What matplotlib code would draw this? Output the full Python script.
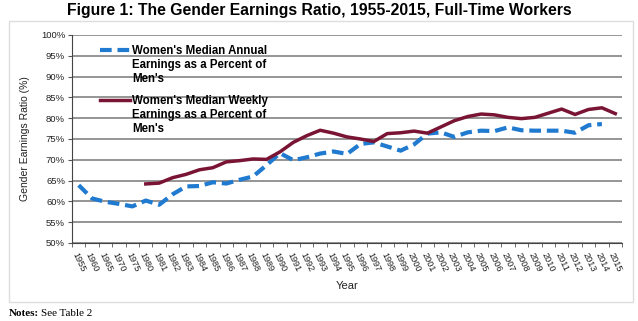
import numpy as np
import matplotlib.pyplot as plt
from matplotlib.patches import Rectangle

# -----------------------------
# data
# -----------------------------
years = ["1955", "1960", "1965", "1970", "1975"] + [str(y) for y in range(1980, 2016)]

annual = [63.9, 60.7, 59.9, 59.4, 58.8,
          60.2, 59.2, 61.7, 63.6, 63.7, 64.6, 64.3, 65.2, 66.0, 68.7,
          71.6, 69.9, 70.6, 71.5, 72.0, 71.4, 73.8, 74.2, 73.2, 72.2,
          73.7, 76.3, 76.6, 75.5, 76.6, 77.0, 76.9, 77.8, 77.1, 77.0,
          77.0, 77.0, 76.5, 78.3, 78.6, np.nan]

weekly = [np.nan, np.nan, np.nan, np.nan, np.nan,
          64.2, 64.4, 65.7, 66.5, 67.6, 68.1, 69.5, 69.8, 70.2, 70.1,
          71.9, 74.2, 75.8, 77.1, 76.4, 75.5, 75.0, 74.4, 76.3, 76.5,
          76.9, 76.4, 77.9, 79.4, 80.4, 81.0, 80.8, 80.2, 79.9, 80.2,
          81.2, 82.2, 80.9, 82.1, 82.5, 81.1]

yticks = [50, 55, 60, 65, 70, 75, 80, 85, 90, 95, 100]

label_annual = "Women's Median Annual\nEarnings as a Percent of\nMen's"
label_weekly = "Women's Median Weekly\nEarnings as a Percent of\nMen's"

BLUE = "#1f7ad0"
MAROON = "#7a1434"

plt.rcParams['font.family'] = ['Liberation Sans', 'DejaVu Sans']

fig = plt.figure(figsize=(6.38, 3.21), dpi=100)

# light chart border like the Excel chart area
fig.patches.append(Rectangle((9 / 638, 1 - 302 / 321), 624 / 638, 281 / 321,
                             transform=fig.transFigure, fill=False,
                             edgecolor="#dddddd", linewidth=1.0))

ax = fig.add_axes([72 / 638, 1 - 243 / 321, 550 / 638, 208 / 321])

x = np.arange(len(years))
ax.plot(x, annual, color=BLUE, linewidth=3, linestyle=(0, (2.8, 1.4)),
        dash_capstyle="butt")
ax.plot(x, weekly, color=MAROON, linewidth=2.5)

ax.set_xlim(-0.5, len(years) - 0.5)
ax.set_ylim(50, 100)
ax.set_yticks(yticks)
ax.set_yticklabels([f"{v}%" for v in yticks], fontsize=6.8, color="#222222")
ax.yaxis.grid(True, color="#8c8c8c", linewidth=1.3)
ax.set_axisbelow(True)

ax.set_xticks(x)
ax.set_xticklabels(years, rotation=-65, ha="left", va="top",
                   rotation_mode="anchor", fontsize=6.6, color="#222222")
ax.set_xticks(np.arange(-0.5, len(years)), minor=True)
ax.tick_params(axis="x", which="major", length=0, pad=6)
ax.tick_params(axis="x", which="minor", length=3, direction="out", color="#555555")
ax.tick_params(axis="y", length=3, direction="out", color="#555555", pad=2)

for s in ["top", "right"]:
    ax.spines[s].set_visible(False)
ax.spines["left"].set_color("#444444")
ax.spines["bottom"].set_color("#444444")

ax.set_ylabel("Gender Earnings Ratio (%)", fontsize=7.5, color="#222222", labelpad=8)
ax.set_xlabel("Year", fontsize=8, color="#222222", labelpad=5)

# legend drawn inside the plot area
ax.plot([1.59, 3.82], [96.4, 96.4], color=BLUE, linewidth=3,
        linestyle=(0, (2.8, 1.4)), dash_capstyle="butt")
ax.text(4.0, 97.6, label_annual, fontsize=8.3, fontweight="bold",
        va="top", ha="left", linespacing=1.2)
ax.plot([1.59, 3.82], [84.4, 84.4], color=MAROON, linewidth=2.5)
ax.text(4.0, 85.6, label_weekly, fontsize=8.3, fontweight="bold",
        va="top", ha="left", linespacing=1.2)

fig.text(0.5, 1 - 11 / 321, "Figure 1: The Gender Earnings Ratio, 1955-2015, Full-Time Workers",
         ha="center", va="center", fontsize=11.3, fontweight="bold")

fig.text(9 / 638, 1 - 313 / 321, "Notes:", family="Liberation Serif",
         fontweight="bold", fontsize=8, va="center", ha="left")
fig.text(41 / 638, 1 - 313 / 321, "See Table 2", family="Liberation Serif",
         fontsize=8, va="center", ha="left")

fig.savefig("out.png", dpi=100)
